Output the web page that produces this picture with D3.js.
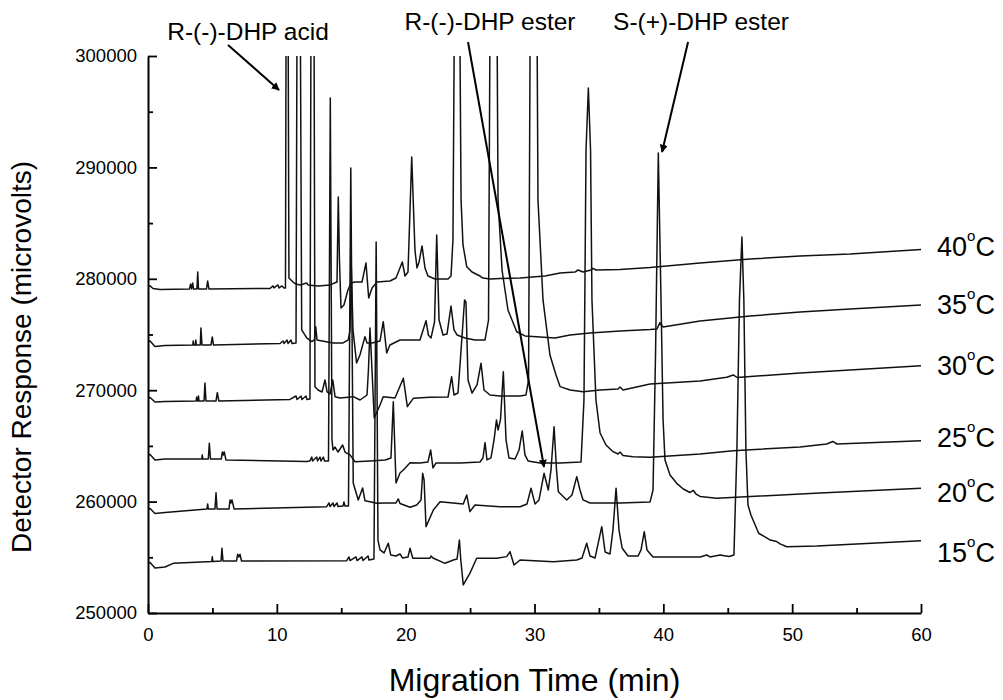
<!DOCTYPE html>
<html><head><meta charset="utf-8">
<script src="https://cdn.jsdelivr.net/npm/d3@7"></script>
<style>
body{margin:0;background:#fff}
svg{display:block;background:#fff}
text{font-family:"Liberation Sans",Arial,Helvetica,sans-serif;fill:#000}
</style>
</head><body>
<svg id="chart" width="1003" height="700"></svg>
<script>
// ---------- data ----------
const xTicks = [0, 10, 20, 30, 40, 50, 60];
const xMinorTicks = [5, 15, 25, 35, 45, 55];
const yTicks = [250000, 260000, 270000, 280000, 290000, 300000];
const yMinorTicks = [255000, 265000, 275000, 285000, 295000];
const temps = ["40", "35", "30", "25", "20", "15"];
const OFF = 320000; // peaks that run off the top of the plot

const trace40 = [[0,279310],[0.16,279360],[0.39,279130],[0.93,279040],[3.22,279090],[3.31,279530],[3.38,279090],[3.47,279620],[3.53,279090],[3.80,279090],[3.86,280610],[3.92,279090],[4.54,279090],[4.63,279800],[4.73,279090],[9.47,279130],[9.70,279360],[9.78,279180],[10.09,279450],[10.17,279180],[10.40,279360],[10.56,279180],[10.67,279180],[10.75,OFF],[10.83,OFF],[10.94,280070],[11.10,279890],[11.26,279710],[11.49,279530],[11.80,279450],[12.32,279620],[12.42,279450],[13.20,279360],[14.13,279450],[14.67,279710],[14.77,287350],[14.86,281690],[14.98,277380],[15.21,277650],[15.52,279000],[15.76,279620],[16.07,279710],[16.61,279710],[16.92,281420],[17.13,278280],[17.39,279180],[17.78,279710],[18.78,279800],[19.25,280070],[19.74,281510],[19.95,280250],[20.18,280610],[20.47,290940],[20.72,282590],[20.88,280970],[21.04,281510],[21.27,282950],[21.50,280970],[21.73,280250],[22.28,279980],[23.29,279980],[23.52,280250],[23.67,283490],[23.87,OFF],[24.10,OFF],[24.30,287080],[24.45,283040],[24.74,281090],[25.15,280610],[25.46,280430],[25.77,280250],[26.00,280070],[26.55,279980],[27.32,280030],[28.88,280070],[30.82,280250],[31.99,280520],[33.14,280610],[33.38,280790],[33.77,280610],[34.39,280790],[34.54,280930],[34.77,280790],[36.64,280840],[38.97,281020],[42.85,281420],[46.73,281780],[50.61,282050],[54.49,282230],[60,282630]];

const trace35 = [[0,274370],[0.16,274420],[0.54,273930],[1.32,274020],[3.48,274060],[3.51,274420],[3.55,274060],[3.67,274060],[3.71,274510],[3.75,274060],[4.06,274060],[4.11,275590],[4.19,274060],[4.89,274060],[4.99,274780],[5.08,274060],[10.25,274190],[10.48,274420],[10.56,274190],[10.79,274510],[10.87,274190],[11.10,274510],[11.18,274190],[11.49,274240],[11.61,OFF],[11.76,OFF],[11.93,275410],[12.32,274690],[12.71,274370],[12.92,274510],[13.02,275700],[13.12,274510],[14.36,274240],[15.14,274240],[15.55,274510],[15.68,275410],[15.78,281060],[15.91,275410],[16.19,272440],[16.45,273160],[16.84,274810],[17.00,274240],[17.39,274240],[18.01,274420],[18.26,276150],[18.53,273340],[18.78,274060],[19.56,274510],[21.11,274510],[21.58,276240],[21.76,274960],[21.97,274690],[22.24,276120],[22.41,283930],[22.59,276300],[22.90,274960],[23.21,275050],[23.52,277560],[23.75,275410],[23.99,274960],[24.61,274690],[25.38,274510],[26.16,274510],[26.43,276300],[26.62,OFF],[27.01,OFF],[27.17,287080],[27.48,280790],[27.94,277200],[28.62,275250],[29.26,274870],[30.43,274780],[31.59,274690],[32.76,274960],[34.31,275140],[36.64,275320],[38.97,275450],[39.51,275500],[39.74,276060],[39.98,275680],[42.85,276210],[46.73,276660],[50.61,277020],[54.49,277290],[60,277650]];

const trace30 = [[0,269300],[0.16,269350],[0.54,268940],[1.32,268990],[3.73,269030],[3.78,269390],[3.83,269030],[3.88,269030],[3.92,269480],[3.96,269030],[4.35,269030],[4.42,270650],[4.50,269030],[5.28,269030],[5.38,269780],[5.50,269030],[11.02,269170],[11.49,269480],[11.57,269170],[11.88,269480],[11.95,269170],[12.26,269480],[12.34,269170],[12.57,269210],[12.69,OFF],[12.85,OFF],[12.96,270320],[13.20,270020],[13.51,269840],[13.74,270920],[13.90,269840],[14.13,269660],[14.34,270920],[14.52,269420],[14.90,269300],[15.94,269420],[16.46,269120],[17.00,269570],[17.11,271820],[17.23,275590],[17.35,272710],[17.56,267510],[18.01,268670],[18.26,269420],[19.17,269300],[19.82,271070],[20.13,268520],[20.59,269270],[21.89,269360],[23.29,269390],[23.57,271210],[23.75,269570],[24.06,269750],[24.30,273610],[24.57,278100],[24.68,277920],[24.84,270920],[25.15,269750],[25.54,270470],[25.85,272420],[26.08,270020],[26.55,269570],[27.32,269480],[28.88,269480],[29.34,269570],[29.54,270920],[29.73,OFF],[30.12,OFF],[30.27,287080],[30.66,278100],[31.20,273160],[31.67,271370],[31.99,270320],[32.76,270020],[33.77,269870],[35.09,270020],[36.49,270110],[36.64,270290],[36.87,270020],[38.97,270560],[42.85,270830],[44.92,271160],[45.43,271370],[45.72,271140],[50.61,271550],[54.49,271820],[60,272200]];

const trace25 = [[0,264190],[0.16,264230],[0.54,263740],[1.32,263830],[4.18,263830],[4.21,264190],[4.25,263830],[4.68,263830],[4.76,265240],[4.85,263830],[5.69,263830],[5.77,264450],[5.84,264190],[5.92,264450],[6.05,263740],[12.32,263590],[12.57,263650],[12.71,264000],[12.77,263650],[13.09,264000],[13.16,263650],[13.35,264000],[13.43,263650],[13.61,264000],[13.70,263650],[14.01,263650],[14.15,296230],[14.28,265530],[14.36,264630],[14.52,264900],[14.75,264450],[15.11,265080],[15.29,264450],[15.68,264190],[16.07,263580],[17.24,263650],[18.40,263740],[18.86,263920],[19.04,268970],[19.25,261670],[19.56,262570],[19.82,262840],[20.34,263490],[21.11,263470],[21.73,263560],[21.94,264630],[22.12,263020],[22.36,263470],[24.22,263470],[25.77,263560],[26.00,263920],[26.16,265290],[26.31,263740],[26.62,263920],[26.86,265530],[27.05,267330],[27.17,266430],[27.36,267330],[27.58,271660],[27.79,265530],[28.02,263920],[28.49,263830],[28.80,264630],[29.05,266340],[29.26,264190],[29.50,263650],[30.43,263470],[31.98,263470],[33.61,263560],[33.84,269120],[34.00,291560],[34.18,297130],[34.35,291560],[34.46,278100],[34.77,269120],[35.09,266160],[35.55,265080],[36.10,264480],[36.48,264270],[36.64,264450],[36.87,264140],[37.65,264030],[38.97,263980],[42.85,264270],[45.43,264570],[50.61,264900],[52.68,265170],[53.15,265400],[53.48,265170],[60,265470]];

const trace20 = [[0,259340],[0.16,259380],[0.54,258930],[1.32,259020],[4.58,259340],[4.63,259790],[4.68,259340],[5.20,259340],[5.28,260800],[5.36,259340],[6.29,259340],[6.37,260150],[6.44,259880],[6.52,260150],[6.68,259340],[13.87,259540],[14.05,259880],[14.13,259560],[14.36,259880],[14.44,259560],[14.67,259880],[14.75,259560],[15.14,259610],[15.21,259970],[15.29,259610],[15.56,259610],[15.74,289950],[15.93,261670],[16.32,260150],[16.66,261220],[16.84,260080],[17.23,259990],[17.75,259850],[18.40,259880],[19.25,259880],[19.43,260240],[19.56,259830],[20.34,259490],[20.86,259700],[21.19,260150],[21.32,262540],[21.43,261940],[21.58,257750],[22.15,259250],[22.67,259990],[24.47,259790],[24.74,260590],[24.99,259100],[25.38,259700],[27.32,259540],[28.88,259540],[29.42,259790],[29.73,261200],[30.04,259790],[30.35,260150],[30.74,262540],[31.07,261040],[31.28,262840],[31.52,266720],[31.71,262840],[31.85,260890],[32.50,260150],[32.91,260590],[33.28,262240],[33.53,261040],[33.77,260150],[34.31,259880],[36.64,259880],[38.97,259970],[39.20,261040],[39.40,273610],[39.61,291300],[39.82,278100],[39.98,267330],[40.13,263740],[40.52,262390],[41.04,261640],[41.55,261130],[42.07,260820],[42.33,261000],[42.54,260680],[42.85,260460],[44.14,260300],[47.50,260500],[52.16,260770],[60,261200]];

const trace15 = [[0,254490],[0.16,254530],[0.54,254040],[1.32,254130],[1.96,254460],[4.56,254610],[4.95,254620],[4.99,255060],[5.03,254620],[5.67,254670],[5.74,255810],[5.82,254670],[6.87,254670],[6.96,255270],[7.05,255030],[7.14,255270],[7.26,254670],[15.42,254700],[15.60,255030],[15.68,254710],[16.15,255030],[16.23,254710],[16.61,255030],[16.69,254710],[17.08,255120],[17.15,254760],[17.54,254850],[17.71,283310],[17.85,256550],[18.01,255660],[18.32,255390],[18.65,256260],[18.84,255210],[19.25,255120],[19.56,255300],[19.75,254940],[20.18,255030],[20.34,255810],[20.55,254910],[21.89,254910],[21.97,255120],[22.12,254940],[23.05,254460],[23.70,254760],[23.99,254850],[24.17,256550],[24.28,254760],[24.47,252520],[24.99,253570],[25.51,254910],[27.07,254910],[27.84,255060],[28.10,255500],[28.41,254310],[28.88,254760],[31.46,254610],[33.28,254760],[33.69,254940],[34.05,256260],[34.31,255120],[34.70,254940],[35.22,257750],[35.48,255480],[35.86,255300],[36.09,257450],[36.33,261200],[36.56,257450],[36.80,255840],[37.26,255120],[38.04,255120],[38.27,255660],[38.52,257300],[38.73,255660],[39.20,255030],[42.85,255030],[43.37,255210],[43.62,255030],[44.40,255210],[45.10,255070],[45.48,255210],[45.71,264630],[45.91,278100],[46.10,283760],[46.25,278100],[46.41,264630],[46.57,259700],[46.80,258800],[47.40,257160],[48.30,256550],[48.80,256420],[49.06,256200],[49.58,255950],[51.91,256020],[60,256490]];

const traces = [trace40, trace35, trace30, trace25, trace20, trace15];

const annotationTexts = ["R-(-)-DHP acid", "R-(-)-DHP ester", "S-(+)-DHP ester"];
// arrow start / end in data units (time, response)
const arrowStarts = [[6.21, 300990], [24.84, 301260], [41.92, 301260]];
const arrowEnds = [[10.17, 296950], [30.74, 263110], [39.90, 291380]];

// ---------- layout ----------
const plot = {left: 148, right: 921, top: 56, bottom: 613};
const annoPos = [[248, 40], [490, 30], [701, 30]];
const tempLabelX = 937;
const tempLabelBaselines = [256, 314, 375, 447, 502, 562];

const svg = d3.select("#chart");
const x = d3.scaleLinear().domain([0, 60]).range([plot.left, plot.right]);
const y = d3.scaleLinear().domain([250000, 300000]).range([plot.bottom, plot.top]);

const defs = svg.append("defs");
defs.append("clipPath").attr("id", "clip")
  .append("rect").attr("x", plot.left).attr("y", plot.top)
  .attr("width", plot.right - plot.left).attr("height", plot.bottom - plot.top);
defs.append("marker").attr("id", "arrow")
  .attr("viewBox", "0 0 10 10").attr("refX", 9).attr("refY", 5)
  .attr("markerWidth", 8).attr("markerHeight", 8).attr("markerUnits", "userSpaceOnUse")
  .attr("orient", "auto")
  .append("path").attr("d", "M0,0 L10,5 L0,10 z").attr("fill", "#000");

// traces
const line = d3.line().x(d => x(d[0])).y(d => y(d[1]));
svg.append("g").attr("clip-path", "url(#clip)")
  .selectAll("path").data(traces).join("path")
  .attr("d", line).attr("fill", "none").attr("stroke", "#111")
  .attr("stroke-width", 1.5).attr("stroke-linejoin", "round");

// axes
const axisFont = 18.5;
svg.append("g").attr("transform", `translate(0,${plot.bottom})`)
  .call(d3.axisBottom(x).tickValues(xTicks).tickSize(-9).tickSizeOuter(0).tickPadding(15).tickFormat(d3.format("d")));
svg.append("g").attr("transform", `translate(0,${plot.bottom})`)
  .call(d3.axisBottom(x).tickValues(xMinorTicks).tickSize(-5).tickFormat(""))
  .call(g => g.select(".domain").remove());
svg.append("g").attr("transform", `translate(${plot.left},0)`)
  .call(d3.axisLeft(y).tickValues(yTicks).tickSize(-9).tickSizeOuter(0).tickPadding(11).tickFormat(d3.format("d")));
svg.append("g").attr("transform", `translate(${plot.left},0)`)
  .call(d3.axisLeft(y).tickValues(yMinorTicks).tickSize(-5).tickFormat(""))
  .call(g => g.select(".domain").remove());
svg.selectAll(".domain").attr("stroke", "#000").attr("stroke-width", 2);
svg.selectAll(".tick line").attr("stroke", "#000").attr("stroke-width", 1.8);
svg.selectAll(".tick text").attr("font-size", axisFont)
  .attr("font-family", '"Liberation Sans",Arial,sans-serif').attr("fill", "#000");

// axis titles
svg.append("text").attr("x", (plot.left + plot.right) / 2).attr("y", 691)
  .attr("text-anchor", "middle").attr("font-size", 32).text("Migration Time (min)");
svg.append("text").attr("transform", "translate(31,357) rotate(-90)")
  .attr("text-anchor", "middle").attr("font-size", 28).text("Detector Response (microvolts)");

// annotations
svg.append("g").selectAll("text").data(annotationTexts).join("text")
  .attr("x", (d, i) => annoPos[i][0]).attr("y", (d, i) => annoPos[i][1])
  .attr("text-anchor", "middle").attr("font-size", 24.5).text(d => d);
svg.append("g").selectAll("line").data(arrowStarts).join("line")
  .attr("x1", d => x(d[0])).attr("y1", d => y(d[1]))
  .attr("x2", (d, i) => x(arrowEnds[i][0])).attr("y2", (d, i) => y(arrowEnds[i][1]))
  .attr("stroke", "#000").attr("stroke-width", 2).attr("marker-end", "url(#arrow)");

// temperature labels
const tl = svg.append("g").selectAll("text").data(temps).join("text")
  .attr("x", tempLabelX).attr("y", (d, i) => tempLabelBaselines[i]).attr("font-size", 27);
tl.append("tspan").text(d => d);
tl.append("tspan").attr("font-size", 15).attr("dy", -15).text("o");
tl.append("tspan").attr("dy", 15).text("C");
</script>
</body></html>
